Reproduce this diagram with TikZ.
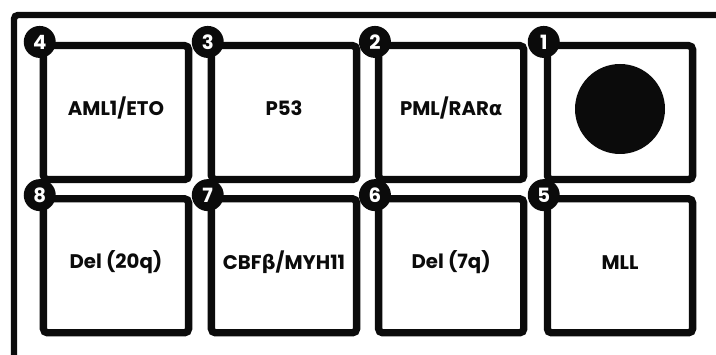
\documentclass[tikz,border=0pt]{standalone}
\usepackage{fontspec}
\setmainfont{Poppins}
\newfontfamily\greekfont{DejaVu Sans}
\usepackage{xcolor}
\usetikzlibrary{positioning}
\definecolor{ink}{HTML}{0B0B0B}
\tikzset{
  probe box/.style={draw=ink,line width=5.2pt,rounded corners=1mm,fill=white,
    minimum width=3.63cm,minimum height=3.35cm,inner sep=0pt},
  probe badge/.style={circle,fill=ink,minimum size=0.8cm,inner sep=0pt,
    font=\bfseries\fontsize{14}{16}\selectfont,text=white},
  gene text/.style={font=\bfseries\fontsize{14}{16}\selectfont,text=ink}
}
\begin{document}
\begin{tikzpicture}[x=1cm,y=1cm]
  \clip (0,0) rectangle (17.9,8.875);
  \fill[white] (0,0) rectangle (17.9,8.875);

  % Outer frame, only top and left edges in view.
  \draw[ink,line width=4.6pt,rounded corners=1mm] (0.35,-1) -- (0.35,8.5) -- (19,8.5);

  % Top row of probes.
  \node[probe box] (b4) at (2.90,6.06) {};
  \node[probe box] (b3) at (7.10,6.06) {};
  \node[probe box] (b2) at (11.28,6.06) {};
  \node[probe box] (b1) at (15.50,6.06) {};

  % Bottom row of probes.
  \node[probe box] (b8) at (2.90,2.23) {};
  \node[probe box] (b7) at (7.10,2.23) {};
  \node[probe box] (b6) at (11.28,2.23) {};
  \node[probe box] (b5) at (15.50,2.23) {};

  % Gene labels, set a little above the box centres.
  \node[gene text] (t4) at ([yshift=1.2mm]b4.center) {AML1/ETO};
  \node[gene text] (t3) at ([yshift=1.2mm]b3.center) {P53};
  \node[gene text] (t2) at ([yshift=1.2mm]b2.center) {PML/RAR{\greekfont α}};
  \node[circle,fill=ink,minimum size=2.25cm,inner sep=0pt] (dot) at ([yshift=0.9mm]b1.center) {};
  \node[gene text] (t8) at ([yshift=0.8mm]b8.center) {Del (20q)};
  \node[gene text] (t7) at ([yshift=0.8mm]b7.center) {CBF{\greekfont β}/MYH11};
  \node[gene text] (t6) at ([yshift=0.8mm]b6.center) {Del (7q)};
  \node[gene text] (t5) at ([yshift=0.8mm]b5.center) {MLL};

  % Number badges on the top left corners.
  \node[probe badge] (n4) at (b4.north west) {4};
  \node[probe badge] (n3) at (b3.north west) {3};
  \node[probe badge] (n2) at (b2.north west) {2};
  \node[probe badge] (n1) at (b1.north west) {1};
  \node[probe badge] (n8) at (b8.north west) {8};
  \node[probe badge] (n7) at (b7.north west) {7};
  \node[probe badge] (n6) at (b6.north west) {6};
  \node[probe badge] (n5) at (b5.north west) {5};
\end{tikzpicture}
\end{document}
